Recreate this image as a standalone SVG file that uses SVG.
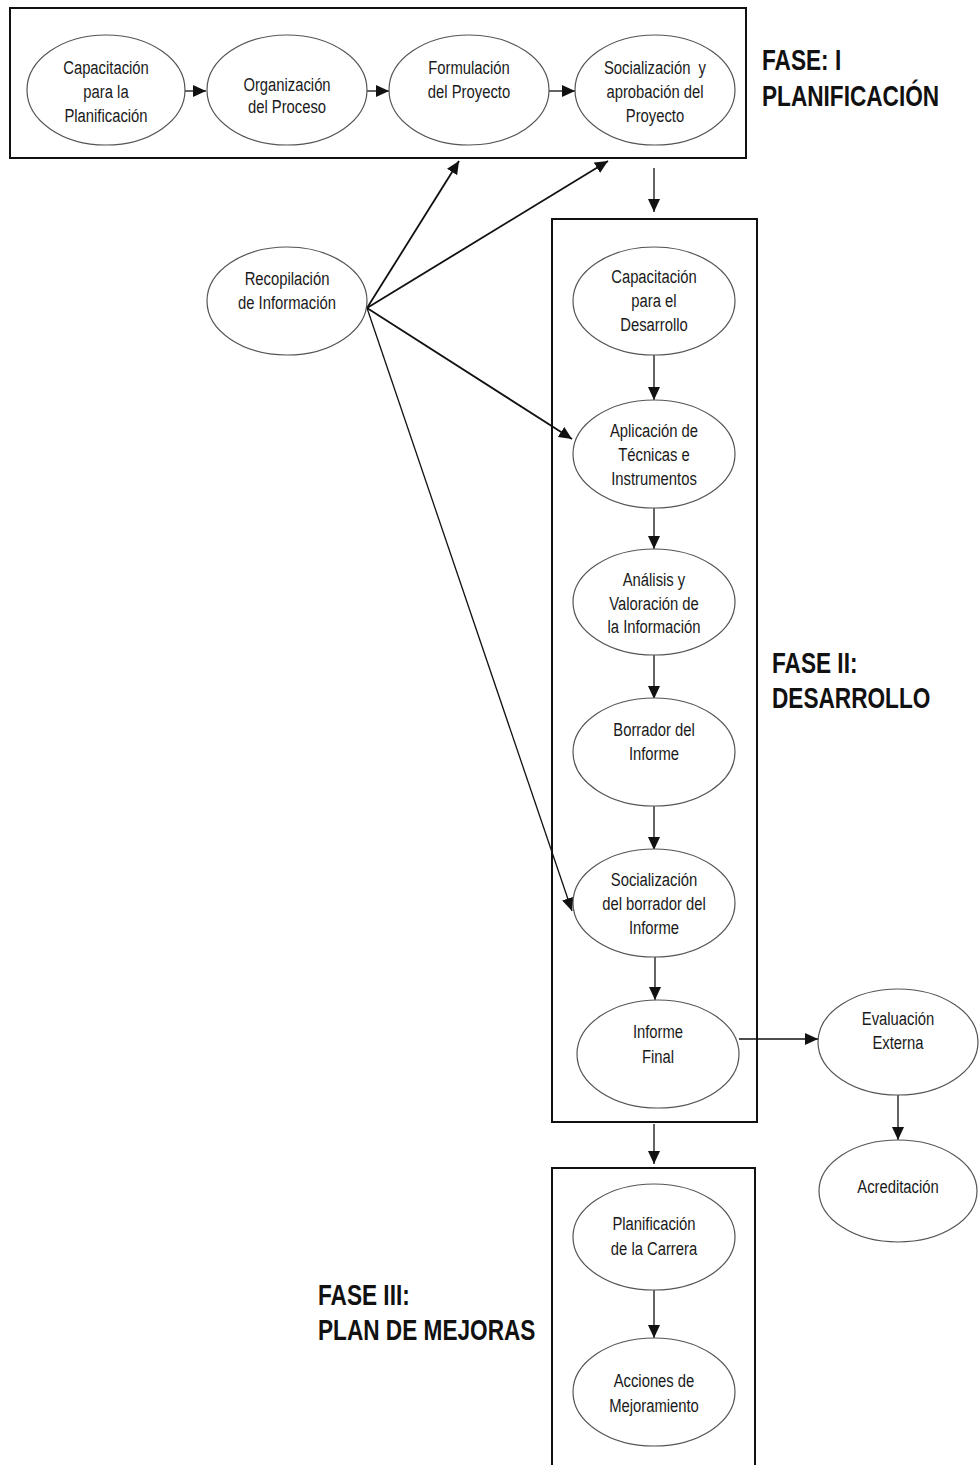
<svg xmlns="http://www.w3.org/2000/svg" width="980" height="1465" viewBox="0 0 980 1465">
<style>
.bg{fill:#fff}
.box{fill:none;stroke:#111;stroke-width:2}
.el{fill:#fff;stroke:#555;stroke-width:1.2}
.t{font-family:"Liberation Sans",Arial,sans-serif;font-size:19px;fill:#1a1a1a;text-anchor:middle}
.h{font-family:"Liberation Sans",Arial,sans-serif;font-size:29px;font-weight:bold;fill:#111}
.c{stroke:#111;stroke-width:1.3;fill:none}
.cb{stroke:#111;stroke-width:1.8;fill:none}
.pre{white-space:pre}
</style>
<defs>
<marker id="ah" markerUnits="userSpaceOnUse" markerWidth="14" markerHeight="12" refX="13" refY="6" orient="auto">
<path d="M0,0 L13,6 L0,12 Z" fill="#111"/>
</marker>
</defs>
<rect class="bg" x="0" y="0" width="980" height="1465"/>

<g id="phase-boxes">
<rect id="box-fase1" class="box" x="10" y="8" width="736" height="150"/>
<rect id="box-fase2" class="box" x="552" y="219" width="205" height="903"/>
<path id="box-fase3" class="box" d="M552,1470 V1168 H755 V1470"/>
</g>

<g id="connectors">
<line class="c" x1="185" y1="91" x2="206" y2="91" marker-end="url(#ah)"/>
<line class="c" x1="367" y1="91" x2="389" y2="91" marker-end="url(#ah)"/>
<line class="c" x1="549" y1="91" x2="575" y2="91" marker-end="url(#ah)"/>
<line class="c" x1="654" y1="168" x2="654" y2="212" marker-end="url(#ah)"/>
<line class="cb" x1="367" y1="308" x2="459" y2="161" marker-end="url(#ah)"/>
<line class="cb" x1="367" y1="308" x2="608" y2="161" marker-end="url(#ah)"/>
<line class="cb" x1="367" y1="308" x2="572" y2="439" marker-end="url(#ah)"/>
<line class="c" x1="367" y1="308" x2="572" y2="911" marker-end="url(#ah)"/>
<line class="c" x1="654" y1="355" x2="654" y2="400" marker-end="url(#ah)"/>
<line class="c" x1="654" y1="508" x2="654" y2="549" marker-end="url(#ah)"/>
<line class="c" x1="654" y1="655" x2="654" y2="699" marker-end="url(#ah)"/>
<line class="c" x1="654" y1="806" x2="654" y2="850" marker-end="url(#ah)"/>
<line class="c" x1="655" y1="957" x2="655" y2="1000" marker-end="url(#ah)"/>
<line class="c" x1="739" y1="1039" x2="818" y2="1039" marker-end="url(#ah)"/>
<line class="c" x1="898" y1="1095" x2="898" y2="1140" marker-end="url(#ah)"/>
<line class="c" x1="654" y1="1124" x2="654" y2="1164" marker-end="url(#ah)"/>
<line class="c" x1="654" y1="1290" x2="654" y2="1338" marker-end="url(#ah)"/>
</g>

<g id="n-capacitacion-plan">
<ellipse class="el" cx="106" cy="90" rx="79" ry="55"/>
<text class="t" transform="translate(106,0) scale(0.78,1)"><tspan x="0" y="74">Capacitación</tspan><tspan x="0" y="98">para la</tspan><tspan x="0" y="122">Planificación</tspan></text>
</g>
<g id="n-organizacion">
<ellipse class="el" cx="287" cy="90" rx="80" ry="55"/>
<text class="t" transform="translate(287,0) scale(0.78,1)"><tspan x="0" y="91">Organización</tspan><tspan x="0" y="113">del Proceso</tspan></text>
</g>
<g id="n-formulacion">
<ellipse class="el" cx="469" cy="90" rx="80" ry="55"/>
<text class="t" transform="translate(469,0) scale(0.78,1)"><tspan x="0" y="74">Formulación</tspan><tspan x="0" y="98">del Proyecto</tspan></text>
</g>
<g id="n-socializacion-aprob">
<ellipse class="el" cx="655" cy="90" rx="80" ry="55"/>
<text class="t pre" transform="translate(655,0) scale(0.78,1)"><tspan x="0" y="74">Socialización  y</tspan><tspan x="0" y="98">aprobación del</tspan><tspan x="0" y="122">Proyecto</tspan></text>
</g>
<g id="label-fase1">
<text class="h" transform="translate(762,0) scale(0.78,1)"><tspan x="0" y="70">FASE: I</tspan><tspan x="0" y="106">PLANIFICACIÓN</tspan></text>
</g>

<g id="n-recopilacion">
<ellipse class="el" cx="287" cy="301" rx="80" ry="54"/>
<text class="t" transform="translate(287,0) scale(0.78,1)"><tspan x="0" y="285">Recopilación</tspan><tspan x="0" y="309">de Información</tspan></text>
</g>

<g id="n-capacitacion-des">
<ellipse class="el" cx="654" cy="301" rx="81" ry="54"/>
<text class="t" transform="translate(654,0) scale(0.78,1)"><tspan x="0" y="283">Capacitación</tspan><tspan x="0" y="307">para el</tspan><tspan x="0" y="331">Desarrollo</tspan></text>
</g>
<g id="n-aplicacion">
<ellipse class="el" cx="654" cy="454" rx="81" ry="54"/>
<text class="t" transform="translate(654,0) scale(0.78,1)"><tspan x="0" y="437">Aplicación de</tspan><tspan x="0" y="461">Técnicas e</tspan><tspan x="0" y="485">Instrumentos</tspan></text>
</g>
<g id="n-analisis">
<ellipse class="el" cx="654" cy="602" rx="81" ry="53"/>
<text class="t" transform="translate(654,0) scale(0.78,1)"><tspan x="0" y="586">Análisis y</tspan><tspan x="0" y="610">Valoración de</tspan><tspan x="0" y="633">la Información</tspan></text>
</g>
<g id="n-borrador">
<ellipse class="el" cx="654" cy="752" rx="81" ry="54"/>
<text class="t" transform="translate(654,0) scale(0.78,1)"><tspan x="0" y="736">Borrador del</tspan><tspan x="0" y="760">Informe</tspan></text>
</g>
<g id="n-socializacion-borr">
<ellipse class="el" cx="654" cy="903" rx="81" ry="54"/>
<text class="t" transform="translate(654,0) scale(0.78,1)"><tspan x="0" y="886">Socialización</tspan><tspan x="0" y="910">del borrador del</tspan><tspan x="0" y="934">Informe</tspan></text>
</g>
<g id="n-informe-final">
<ellipse class="el" cx="658" cy="1054" rx="81" ry="54"/>
<text class="t" transform="translate(658,0) scale(0.78,1)"><tspan x="0" y="1038">Informe</tspan><tspan x="0" y="1063">Final</tspan></text>
</g>
<g id="label-fase2">
<text class="h" transform="translate(772,0) scale(0.78,1)"><tspan x="0" y="673">FASE II:</tspan><tspan x="0" y="708">DESARROLLO</tspan></text>
</g>

<g id="n-evaluacion">
<ellipse class="el" cx="898" cy="1042" rx="80" ry="53"/>
<text class="t" transform="translate(898,0) scale(0.78,1)"><tspan x="0" y="1025">Evaluación</tspan><tspan x="0" y="1049">Externa</tspan></text>
</g>
<g id="n-acreditacion">
<ellipse class="el" cx="898" cy="1191" rx="79" ry="51"/>
<text class="t" transform="translate(898,0) scale(0.78,1)"><tspan x="0" y="1193">Acreditación</tspan></text>
</g>

<g id="n-planificacion-carrera">
<ellipse class="el" cx="654" cy="1237" rx="81" ry="53"/>
<text class="t" transform="translate(654,0) scale(0.78,1)"><tspan x="0" y="1230">Planificación</tspan><tspan x="0" y="1255">de la Carrera</tspan></text>
</g>
<g id="n-acciones">
<ellipse class="el" cx="654" cy="1392" rx="81" ry="54"/>
<text class="t" transform="translate(654,0) scale(0.78,1)"><tspan x="0" y="1387">Acciones de</tspan><tspan x="0" y="1412">Mejoramiento</tspan></text>
</g>
<g id="label-fase3">
<text class="h" transform="translate(318,0) scale(0.78,1)"><tspan x="0" y="1305">FASE III:</tspan><tspan x="0" y="1340">PLAN DE MEJORAS</tspan></text>
</g>
</svg>
